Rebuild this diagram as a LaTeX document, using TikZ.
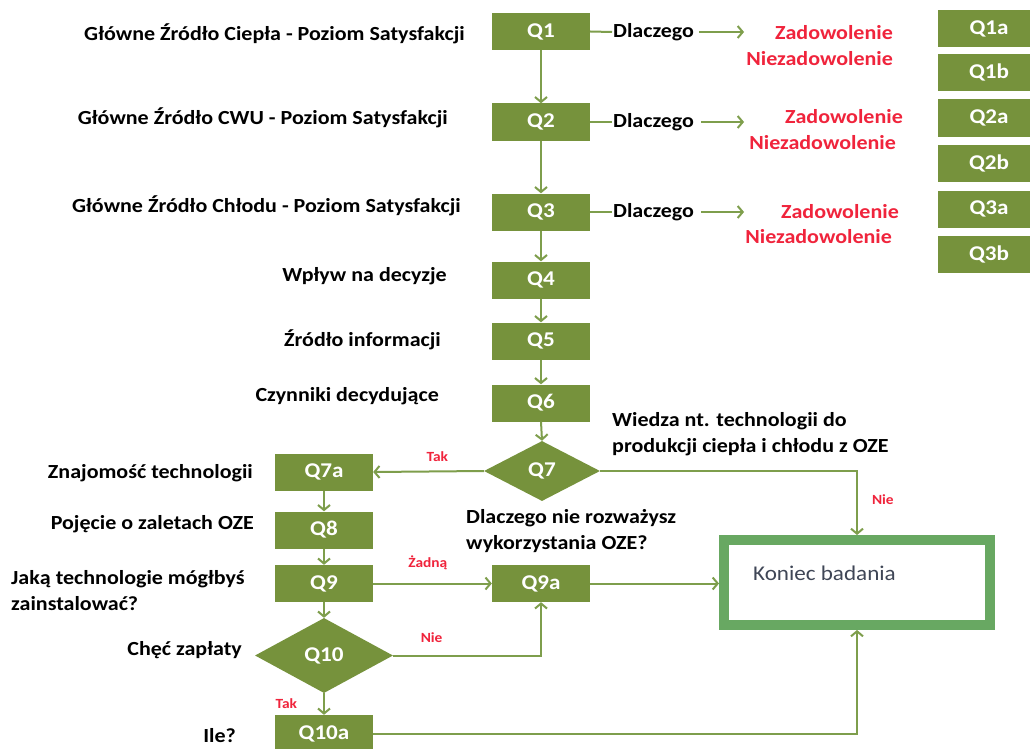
\documentclass[tikz,border=0pt]{standalone}
\usepackage{fontspec}
\setmainfont[FakeStretch=1.1]{Carlito}
\usetikzlibrary{shapes.geometric,arrows.meta}
\definecolor{qgreen}{HTML}{76923C}
\definecolor{lgreen}{HTML}{7E9E4C}
\definecolor{kgreen}{HTML}{68A862}
\definecolor{rtext}{HTML}{F0243C}
\definecolor{ktext}{HTML}{3F4656}
\tikzset{
  qbox/.style={fill=qgreen, minimum width=98pt, minimum height=37pt, inner sep=0pt, text=white, font=\bfseries\fontsize{21}{24}\selectfont},
  qdia/.style={diamond, fill=qgreen, inner sep=0pt, text=white, font=\bfseries\fontsize{21}{24}\selectfont},
  lab/.style={font=\bfseries\fontsize{20}{26}\selectfont, text=black, inner sep=1pt},
  redlab/.style={font=\bfseries\fontsize{20}{26}\selectfont, text=rtext, inner sep=1pt},
  small/.style={font=\bfseries\fontsize{14}{16}\selectfont, text=rtext, inner sep=1pt},
  conn/.style={draw=lgreen, line width=2pt},
  arr/.style={conn, -{Straight Barb[length=5pt,width=12pt,line width=2pt]}},
}
\begin{document}
\begin{tikzpicture}[x=1pt,y=-1pt]
\useasboundingbox (0,0) rectangle (1030,749);
\fill[white] (0,0) rectangle (1030,749);
\begin{scope}
\clip (0,0) rectangle (1030,749);
% main column
\node[qbox] (q1) at (541,31.5) {Q1};
\node[qbox] (q2) at (541,122) {Q2};
\node[qbox] (q3) at (541,212) {Q3};
\node[qbox] (q4) at (541,280) {Q4};
\node[qbox] (q5) at (541,341) {Q5};
\node[qbox] (q6) at (541,403) {Q6};
\node[qdia, minimum width=116pt, minimum height=60pt] (q7) at (542,471) {Q7};
\node[qbox] (q7a) at (324,472) {Q7a};
\node[qbox] (q8) at (324,530) {Q8};
\node[qbox] (q9) at (324,583.5) {Q9};
\node[qdia, minimum width=138pt, minimum height=75pt] (q10) at (324,655.5) {Q10};
\node[qbox] (q10a) at (324,733.5) {Q10a};
\node[qbox] (q9a) at (541,583.5) {Q9a};
% right column
\node[qbox, minimum width=102pt] (q1a) at (989,28.5) {Q1a};
\node[qbox, minimum width=102pt] (q1b) at (989,72.5) {Q1b};
\node[qbox, minimum width=102pt] (q2a) at (989,118) {Q2a};
\node[qbox, minimum width=102pt] (q2b) at (989,163.5) {Q2b};
\node[qbox, minimum width=102pt] (q3a) at (989,209) {Q3a};
\node[qbox, minimum width=102pt] (q3b) at (989,254) {Q3b};
% end box
\node[draw=kgreen, line width=10pt, minimum width=266pt, minimum height=85pt, inner sep=0pt] (end) at (857,582.5) {};
\node[font=\fontsize{21}{24}\selectfont, text=ktext, anchor=west, inner sep=0pt] (endt) at (753,573) {Koniec badania};
\end{scope}
% left labels
\node[lab, anchor=east] (l1) at (466,34) {Główne Źródło Ciepła - Poziom Satysfakcji};
\node[lab, anchor=east] (l2) at (449,118) {Główne Źródło CWU - Poziom Satysfakcji};
\node[lab, anchor=east] (l3) at (462,206) {Główne Źródło Chłodu - Poziom Satysfakcji};
\node[lab, anchor=east] (l4) at (448,276) {Wpływ na decyzje};
\node[lab, anchor=east] (l5) at (442,340) {Źródło informacji};
\node[lab, anchor=east] (l6) at (440,396) {Czynniki decydujące};
\node[lab, anchor=west, align=left] (l7) at (611,434) {Wiedza nt. technologii do\\produkcji ciepła i chłodu z OZE};
\node[lab, anchor=east] (l7a) at (254,473) {Znajomość technologii};
\node[lab, anchor=east] (l8) at (255,524) {Pojęcie o zaletach OZE};
\node[lab, anchor=west, align=left] (l9) at (10,591) {Jaką technologie mógłbyś\\zainstalować?};
\node[lab, anchor=east] (l10) at (243,650) {Chęć zapłaty};
\node[lab, anchor=east] (l10a) at (237,736) {Ile?};
\node[lab, anchor=west, align=left] (l9a) at (465,531) {Dlaczego nie rozważysz\\wykorzystania OZE?};
% Dlaczego rows
\node[lab, anchor=west] (d1) at (612,32) {Dlaczego};
\node[lab, anchor=west] (d2) at (612,122) {Dlaczego};
\node[lab, anchor=west] (d3) at (612,212) {Dlaczego};
\coordinate (e1) at (744,32);
\coordinate (e2) at (744,122);
\coordinate (e3) at (744,212);
\node[redlab, anchor=east] (z1) at (894,33) {Zadowolenie};
\node[redlab, anchor=east] (n1) at (894,59) {Niezadowolenie};
\node[redlab, anchor=east] (z2) at (904,117) {Zadowolenie};
\node[redlab, anchor=east] (n2) at (897,143) {Niezadowolenie};
\node[redlab, anchor=east] (z3) at (900,212) {Zadowolenie};
\node[redlab, anchor=east] (n3) at (893,237) {Niezadowolenie};
% connectors
\draw[conn] (q1.east) -- (d1.west);
\draw[conn] (q2.east) -- (d2.west);
\draw[conn] (q3.east) -- (d3.west);
\draw[arr] ([xshift=4pt]d1.east) -- (e1);
\draw[arr] ([xshift=6pt]d2.east) -- (e2);
\draw[arr] ([xshift=6pt]d3.east) -- (e3);
\draw[arr] (q1) -- (q2);
\draw[arr] (q2) -- (q3);
\draw[arr] (q3) -- (q4);
\draw[arr] (q4) -- (q5);
\draw[arr] (q5) -- (q6);
\draw[arr] (q6.south) -- (q7.north);
\draw[arr] (q7.west) -- (q7a.east) node[small, pos=0.42, above=8pt] (t1) {Tak};
\draw[arr] (q7.east) -| (end.north) node[small, pos=0.725, right=13pt] (n7) {Nie};
\draw[arr] (q7a) -- (q8);
\draw[arr] (q8) -- (q9);
\draw[arr] (q9.south) -- (q10.north);
\draw[arr] (q9) -- (q9a) node[small, pos=0.46, above=12pt] (zd) {Żadną};
\draw[arr] (q10.east) -| (q9a.south) node[small, pos=0.13, above=11pt] (n10) {Nie};
\draw[arr] (q10.south) -- (q10a.north) node[small, midway, left=25pt] (t10) {Tak};
\draw[arr] (q9a.east) -- (end.west |- q9a.east);
\draw[arr] (q10a.east) -| (end.south);
\end{tikzpicture}
\end{document}
